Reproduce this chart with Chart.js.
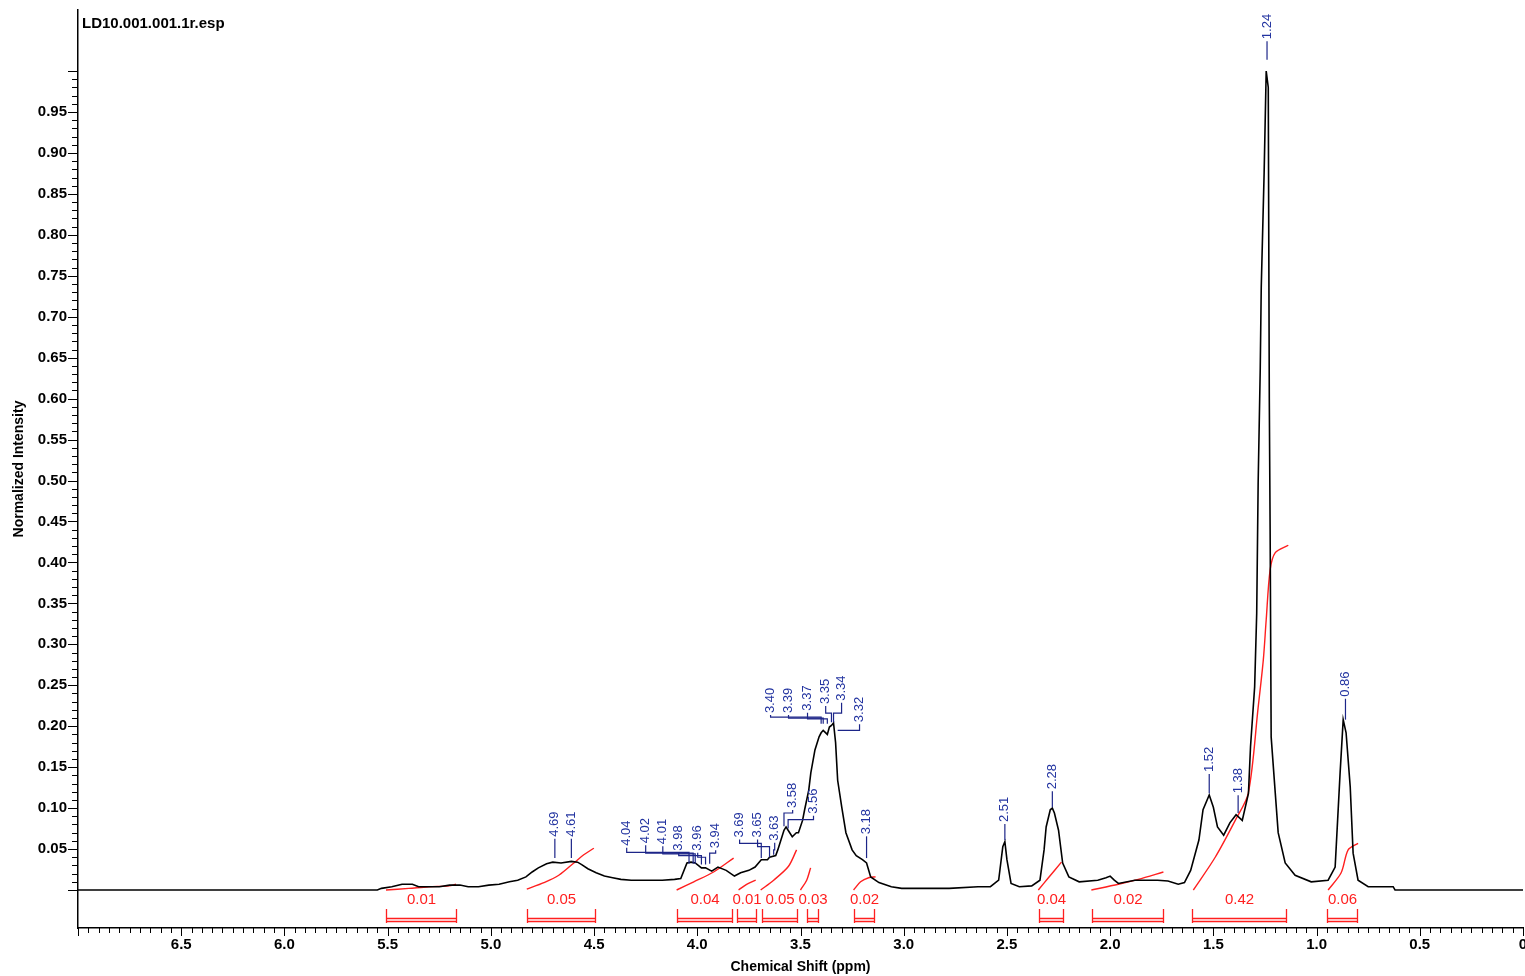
<!DOCTYPE html>
<html>
<head>
<meta charset="utf-8">
<title>LD10.001.001.1r.esp</title>
<script src="https://cdn.jsdelivr.net/npm/chart.js@4.4.0/dist/chart.umd.min.js"></script>
<style>
  html, body { margin: 0; padding: 0; background: #fff; }
  #wrap { width: 1525px; height: 976px; }
</style>
</head>
<body>
<div id="wrap"><canvas id="nmr" width="1525" height="976"></canvas></div>
<script>
// 1H NMR spectrum, LD10.001.001.1r.esp

const fileName = "LD10.001.001.1r.esp";

const xTickValues = [6.5, 6.0, 5.5, 5.0, 4.5, 4.0, 3.5, 3.0, 2.5, 2.0, 1.5, 1.0, 0.5, 0];
const yTickValues = [0.05, 0.10, 0.15, 0.20, 0.25, 0.30, 0.35, 0.40, 0.45, 0.50,
                     0.55, 0.60, 0.65, 0.70, 0.75, 0.80, 0.85, 0.90, 0.95];

// spectrum trace (ppm, normalized intensity)
const specPpm = [7.00, 5.55, 5.53, 5.48, 5.43, 5.38, 5.35, 5.32, 5.25, 5.20, 5.15, 5.11, 5.06, 5.01, 4.96,
  4.91, 4.87, 4.83, 4.80, 4.77, 4.73, 4.70, 4.66, 4.61, 4.58, 4.56, 4.53, 4.49, 4.45, 4.41, 4.37, 4.32,
  4.24, 4.17, 4.11, 4.08, 4.05, 4.03, 4.01, 3.98, 3.96, 3.93, 3.90, 3.86, 3.82, 3.79, 3.75, 3.72, 3.69,
  3.66, 3.65, 3.62, 3.61, 3.58, 3.57, 3.56, 3.54, 3.52, 3.51, 3.49, 3.48, 3.46, 3.45, 3.43, 3.41, 3.40,
  3.39, 3.37, 3.36, 3.35, 3.34, 3.33, 3.32, 3.30, 3.28, 3.25, 3.23, 3.20, 3.18, 3.16, 3.12, 3.06, 3.01,
  2.78, 2.64, 2.58, 2.54, 2.52, 2.51, 2.50, 2.48, 2.44, 2.38, 2.34, 2.32, 2.31, 2.29, 2.28, 2.27, 2.25,
  2.23, 2.20, 2.15, 2.06, 2.02, 2.00, 1.98, 1.96, 1.88, 1.77, 1.72, 1.67, 1.64, 1.61, 1.57, 1.55, 1.52,
  1.50, 1.48, 1.45, 1.42, 1.39, 1.36, 1.33, 1.32, 1.30, 1.29, 1.283, 1.273, 1.268, 1.254, 1.244, 1.234,
  1.229, 1.225, 1.220, 1.200, 1.186, 1.152, 1.104, 1.026, 0.944, 0.910, 0.886, 0.871, 0.857, 0.837,
  0.823, 0.799, 0.750, 0.629, 0.620, 0];
const specInt = [0, 0, 0.002, 0.004, 0.007, 0.007, 0.004, 0.004, 0.004, 0.006, 0.006, 0.004, 0.004, 0.006, 0.007,
  0.010, 0.012, 0.016, 0.022, 0.027, 0.032, 0.034, 0.033, 0.035, 0.034, 0.031, 0.026, 0.021, 0.017, 0.015, 0.013, 0.012,
  0.012, 0.012, 0.013, 0.014, 0.033, 0.034, 0.033, 0.027, 0.027, 0.023, 0.028, 0.024, 0.017, 0.021, 0.024, 0.028, 0.037,
  0.037, 0.040, 0.042, 0.049, 0.073, 0.077, 0.073, 0.065, 0.070, 0.070, 0.085, 0.098, 0.122, 0.143, 0.171, 0.187, 0.192,
  0.195, 0.190, 0.199, 0.201, 0.204, 0.180, 0.134, 0.101, 0.070, 0.049, 0.042, 0.037, 0.033, 0.016, 0.009, 0.004, 0.002,
  0.002, 0.004, 0.004, 0.012, 0.053, 0.059, 0.037, 0.008, 0.004, 0.005, 0.012, 0.049, 0.077, 0.098, 0.100, 0.094, 0.073,
  0.033, 0.016, 0.010, 0.012, 0.015, 0.017, 0.012, 0.008, 0.012, 0.012, 0.011, 0.007, 0.009, 0.024, 0.061, 0.098, 0.116,
  0.101, 0.077, 0.067, 0.082, 0.092, 0.085, 0.118, 0.175, 0.248, 0.338, 0.497, 0.635, 0.736, 0.876, 1.000, 0.980,
  0.600, 0.440, 0.187, 0.118, 0.070, 0.033, 0.018, 0.010, 0.012, 0.028, 0.143, 0.208, 0.192, 0.126,
  0.045, 0.012, 0.004, 0.004, 0, 0];

// integral curves, one list per integrated region
const integralPpm = [
  [5.508, 5.397, 5.300, 5.203, 5.169],
  [4.826, 4.743, 4.671, 4.598, 4.550, 4.501],
  [4.100, 4.017, 3.921, 3.824],
  [3.800, 3.761, 3.717],
  [3.693, 3.630, 3.558, 3.519],
  [3.500, 3.470, 3.451],
  [3.243, 3.209, 3.170, 3.136],
  [2.348, 2.299, 2.236],
  [2.091, 1.960, 1.864, 1.742],
  [1.597, 1.491, 1.394, 1.331, 1.283, 1.258, 1.244, 1.225, 1.200, 1.137],
  [0.944, 0.881, 0.847, 0.799]
];
const integralVal = [
  [0, 0.002, 0.004, 0.005, 0.007],
  [0.001, 0.009, 0.018, 0.033, 0.043, 0.051],
  [0, 0.010, 0.022, 0.039],
  [0, 0.007, 0.012],
  [0, 0.012, 0.029, 0.049],
  [0, 0.012, 0.027],
  [0, 0.010, 0.015, 0.016],
  [0, 0.015, 0.034],
  [0, 0.007, 0.013, 0.022],
  [0, 0.040, 0.085, 0.118, 0.223, 0.281, 0.330, 0.391, 0.412, 0.421],
  [0, 0.021, 0.049, 0.057]
];

// integration ranges and values
const intFrom = [5.508, 4.826, 4.100, 3.809, 3.688, 3.470, 3.243, 2.343, 2.086, 1.602, 0.949];
const intTo   = [5.169, 4.497, 3.834, 3.717, 3.519, 3.417, 3.146, 2.227, 1.742, 1.147, 0.803];
const intLabels = ["0.01", "0.05", "0.04", "0.01", "0.05", "0.03", "0.02", "0.04", "0.02", "0.42", "0.06"];

// picked peaks
const peakPpm = [4.69, 4.61, 4.04, 4.02, 4.01, 3.98, 3.96, 3.94, 3.69, 3.65, 3.63, 3.58, 3.56,
                 3.40, 3.39, 3.37, 3.35, 3.34, 3.32, 3.18, 2.51, 2.28, 1.52, 1.38, 1.24, 0.86];

// peak label layout: text centre (ppm), text foot and leader elbow / tip (intensity units)
const labelAt    = [4.69, 4.61, 4.342, 4.250, 4.167, 4.090, 3.998, 3.911, 3.795, 3.708, 3.625, 3.538, 3.437,
                    3.645, 3.558, 3.466, 3.378, 3.301, 3.214, 3.18, 2.51, 2.28, 1.52, 1.38, 1.24, 0.86];
const labelFoot  = [0.065, 0.065, 0.054, 0.057, 0.056, 0.048, 0.048, 0.051, 0.064, 0.064, 0.060, 0.100, 0.093,
                    0.216, 0.216, 0.219, 0.227, 0.231, 0.205, 0.068, 0.083, 0.123, 0.144, 0.118, 1.039, 0.236];
const labelElbow = [null, null, 0.046, 0.045, 0.044, 0.042, 0.040, 0.045, 0.057, 0.053, 0.049, 0.094, 0.086,
                    0.211, 0.210, 0.209, 0.216, 0.216, 0.195, null, null, null, null, null, null, null];
const labelTip   = [0.039, 0.039, 0.032, 0.032, 0.032, 0.031, 0.031, 0.032, 0.039, 0.040, 0.043, 0.078, 0.075,
                    0.203, 0.203, 0.203, 0.205, 0.205, 0.195, 0.039, 0.061, 0.101, 0.118, 0.094, 1.014, 0.208];

const RED = "#ff1f1f";
const NAVY = "#1c2588";

function toPoints(xs, ys) {
  return xs.map((p, i) => ({ x: p, y: ys[i] }));
}

// ------------------------------------------------------------
// Decorations: tick marks, integrals, peak labels, file name
// ------------------------------------------------------------
const nmrDecor = {
  id: "nmrDecor",
  afterDatasetsDraw(chart) {
    const { ctx, chartArea } = chart;
    const xs = chart.scales.x;
    const ys = chart.scales.y;
    const y0 = ys.getPixelForValue(0);

    ctx.save();

    // axis tick marks
    ctx.strokeStyle = "#000";
    ctx.lineWidth = 1;
    ctx.beginPath();
    for (let k = 0; k <= 100; k++) {
      const py = Math.round(ys.getPixelForValue(k / 100)) + 0.5;
      const len = k % 5 === 0 ? 10 : 6;
      ctx.moveTo(chartArea.left - len, py);
      ctx.lineTo(chartArea.left, py);
    }
    for (let k = 0; k <= 140; k++) {
      const px = Math.round(xs.getPixelForValue(k * 0.05)) + 0.5;
      const len = k % 10 === 0 ? 8 : 5;
      ctx.moveTo(px, chartArea.bottom);
      ctx.lineTo(px, chartArea.bottom + len);
    }
    ctx.stroke();

    // integration brackets
    ctx.strokeStyle = RED;
    ctx.fillStyle = RED;
    ctx.lineWidth = 1.3;
    ctx.font = "15px 'Liberation Sans', Arial, sans-serif";
    ctx.textAlign = "center";
    ctx.textBaseline = "middle";
    intFrom.forEach((from, i) => {
      const a = Math.round(xs.getPixelForValue(from)) + 0.5;
      const b = Math.round(xs.getPixelForValue(intTo[i])) + 0.5;
      ctx.beginPath();
      ctx.moveTo(a, y0 + 19); ctx.lineTo(a, y0 + 33);
      ctx.moveTo(b, y0 + 19); ctx.lineTo(b, y0 + 33);
      ctx.moveTo(a, y0 + 28.5); ctx.lineTo(b, y0 + 28.5);
      ctx.moveTo(a, y0 + 31.5); ctx.lineTo(b, y0 + 31.5);
      ctx.stroke();
      ctx.fillText(intLabels[i], (a + b) / 2, y0 + 10);
    });

    // peak labels with leaders
    ctx.strokeStyle = NAVY;
    ctx.fillStyle = "#2233a0";
    ctx.lineWidth = 1.2;
    ctx.font = "13px 'Liberation Sans', Arial, sans-serif";
    peakPpm.forEach((p, i) => {
      const px = xs.getPixelForValue(p);
      const tx = xs.getPixelForValue(labelAt[i]);
      const foot = ys.getPixelForValue(labelFoot[i]);
      const tip = ys.getPixelForValue(labelTip[i]);
      ctx.beginPath();
      ctx.moveTo(tx, foot + 2);
      if (labelElbow[i] !== null) {
        const elbow = ys.getPixelForValue(labelElbow[i]);
        ctx.lineTo(tx, elbow);
        ctx.lineTo(px, elbow);
      }
      ctx.lineTo(px, tip);
      ctx.stroke();

      ctx.save();
      ctx.translate(tx, foot);
      ctx.rotate(-Math.PI / 2);
      ctx.textAlign = "left";
      ctx.textBaseline = "middle";
      ctx.fillText(p.toFixed(2), 0, 0);
      ctx.restore();
    });

    // file name
    ctx.fillStyle = "#000";
    ctx.font = "bold 15px 'Liberation Sans', Arial, sans-serif";
    ctx.textAlign = "left";
    ctx.textBaseline = "alphabetic";
    ctx.fillText(fileName, chartArea.left + 4, 28);

    ctx.restore();
  }
};

const datasets = [
  {
    label: "Spectrum",
    data: toPoints(specPpm, specInt),
    borderColor: "#000",
    borderWidth: 1.6,
    pointRadius: 0,
    showLine: true,
    tension: 0
  }
];
integralPpm.forEach((xsArr, i) => {
  datasets.push({
    label: "Integral " + intLabels[i],
    data: toPoints(xsArr, integralVal[i]),
    borderColor: RED,
    borderWidth: 1.4,
    pointRadius: 0,
    showLine: true,
    tension: 0.3
  });
});

const axisFont = { family: "'Liberation Sans', Arial, sans-serif", size: 15, weight: "bold" };

new Chart(document.getElementById("nmr"), {
  type: "scatter",
  data: { datasets },
  options: {
    responsive: false,
    devicePixelRatio: 1,
    animation: false,
    layout: { padding: { top: 10, right: 2, left: 0, bottom: 0 } },
    plugins: {
      legend: { display: false },
      tooltip: { enabled: false }
    },
    scales: {
      x: {
        type: "linear",
        reverse: true,
        min: 0,
        max: 7,
        afterBuildTicks: s => { s.ticks = xTickValues.map(v => ({ value: v })); },
        afterFit: s => { s.height = 48; s.paddingLeft = 0; s.paddingRight = 0; },
        grid: { display: true, drawOnChartArea: false, drawTicks: false },
        border: { display: true, color: "#000", width: 1.5 },
        ticks: {
          autoSkip: false,
          maxRotation: 0,
          padding: 8,
          color: "#000",
          font: axisFont,
          callback: v => (v === 0 ? "0" : Number(v).toFixed(1))
        },
        title: {
          display: true,
          text: "Chemical Shift (ppm)",
          color: "#000",
          font: { family: "'Liberation Sans', Arial, sans-serif", size: 14, weight: "bold" },
          padding: { top: 3, bottom: 0 }
        }
      },
      y: {
        type: "linear",
        min: -0.0464,
        max: 1.0746,
        afterBuildTicks: s => { s.ticks = yTickValues.map(v => ({ value: v })); },
        afterFit: s => { s.width = 78; s.paddingTop = 0; s.paddingBottom = 0; },
        grid: { display: true, drawOnChartArea: false, drawTicks: false },
        border: { display: true, color: "#000", width: 1.5 },
        ticks: {
          autoSkip: false,
          padding: 11,
          color: "#000",
          font: axisFont,
          callback: v => Number(v).toFixed(2)
        },
        title: {
          display: true,
          text: "Normalized Intensity",
          color: "#000",
          font: { family: "'Liberation Sans', Arial, sans-serif", size: 14, weight: "bold" },
          padding: { top: 11, bottom: 0 }
        }
      }
    }
  },
  plugins: [nmrDecor]
});
</script>
</body>
</html>
